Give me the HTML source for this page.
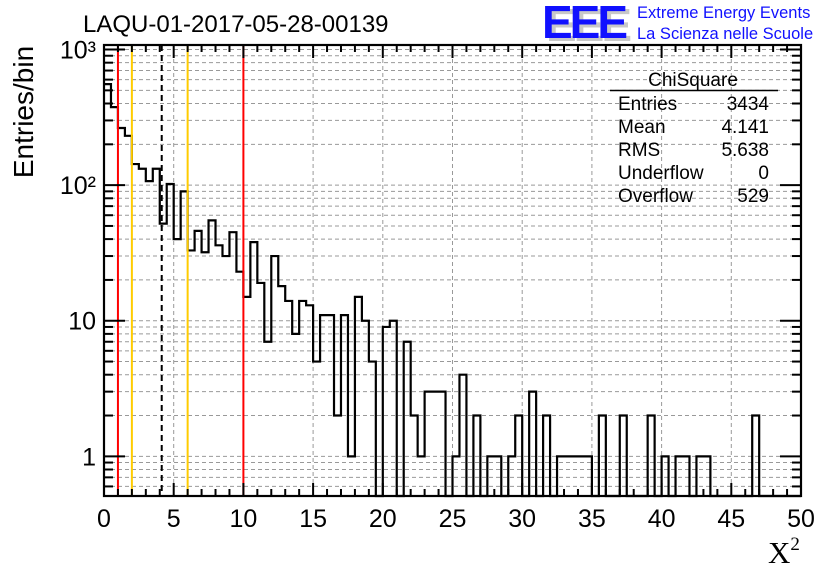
<!DOCTYPE html>
<html><head><meta charset="utf-8"><style>
body{margin:0;background:#fff}
svg{display:block;font-family:"Liberation Sans",sans-serif}
</style></head><body>
<svg id="c" width="836" height="572" viewBox="0 0 836 572">
<text x="83" y="32" font-size="24">LAQU-01-2017-05-28-00139</text>
<g>
<text x="546" y="41" font-size="46" font-weight="bold" fill="#c8c8c8" letter-spacing="-3">EEE</text>
<text x="542" y="38" font-size="46" font-weight="bold" fill="#1010ff" letter-spacing="-3">EEE</text>
<text x="637" y="18" font-size="16.5" fill="#1010ff">Extreme Energy Events</text>
<text x="637" y="39" font-size="16.5" fill="#1010ff">La Scienza nelle Scuole</text>
</g>
<g id="grid"></g>
<g id="marks"></g>
<g id="axes"></g>
<g font-size="19">
<text x="693" y="86" text-anchor="middle">ChiSquare</text>
<line x1="610" y1="90.5" x2="778" y2="90.5" stroke="#000" stroke-width="1.5"/>
<text x="618" y="110">Entries</text><text x="769" y="110" text-anchor="end">3434</text>
<text x="618" y="133">Mean</text><text x="769" y="133" text-anchor="end">4.141</text>
<text x="618" y="156">RMS</text><text x="769" y="156" text-anchor="end">5.638</text>
<text x="618" y="179">Underflow</text><text x="769" y="179" text-anchor="end">0</text>
<text x="618" y="202">Overflow</text><text x="769" y="202" text-anchor="end">529</text>
</g>
<text transform="translate(33,112) rotate(-90)" font-size="28" text-anchor="middle">Entries/bin</text>
<text x="768" y="563" font-size="31" font-family="Liberation Serif,serif">X<tspan font-size="19" dy="-13">2</tspan></text>
</svg>
<script>
const binCounts=[556,376,264,231,143,132,107,132,52,102,40,90,33,46,32,55,36,30,45,23,15,38,19,7,30,18,14,8,14,13,5,11,11,2,11,1,15,10,5,0,9,10,0,7,2,1,3,3,3,0,1,4,0,2,0,1,1,0,1,2,0,3,0,2,0,1,1,1,1,1,0,2,0,0,2,0,0,0,2,0,1,0,1,1,0,1,1,0,0,0,0,0,0,2,0,0,0,0,0,0];
const binWidth=0.5;
const xTicks=[0,5,10,15,20,25,30,35,40,45,50];
const yDecades=[1,10,100,1000];
const yDecadeLabels=["1","10","10²","10³"];
const cutLines=[1,2,6,10];
const cutColors=["#ff0000","#ffcc00","#ffcc00","#ff0000"];
const meanValue=4.141;
const L=104,R=801,T=45,B=496,xMin=0,xMax=50,yMin=0.51,yMax=1080;
const X=v=>L+(v-xMin)/(xMax-xMin)*(R-L);
const Y=v=>B-(Math.log10(v)-Math.log10(yMin))/(Math.log10(yMax)-Math.log10(yMin))*(B-T);
const NS="http://www.w3.org/2000/svg";
function mk(p,t,a){const e=document.createElementNS(NS,t);for(const k in a)e.setAttribute(k,a[k]);p.appendChild(e);return e;}
const grid=document.getElementById('grid'),marks=document.getElementById('marks'),axes=document.getElementById('axes');
for(const d of yDecades){for(let m=1;m<10;m++){const v=d*m;if(v<yMin||v>yMax)continue;
const g=mk(grid,'line',{x1:L,x2:R,y1:Y(v),y2:Y(v),stroke:'#999',"stroke-dasharray":'4,3','stroke-width':1});

}}
for(let m=5;m<10;m++){const v=0.1*m;if(v<yMin)continue;const g=mk(grid,'line',{x1:L,x2:R,y1:Y(v),y2:Y(v),stroke:'#999',"stroke-dasharray":'4,3'});

}
for(const t of xTicks){const g=mk(grid,'line',{x1:X(t),x2:X(t),y1:T,y2:B,stroke:'#999',"stroke-dasharray":'4,3'});

}
let d='';let prev=null;
binCounts.forEach((c,i)=>{const x0=X(i*binWidth),x1=X((i+1)*binWidth);const y=c>0?Y(c):B;
if(prev===null)d+=`M${x0},${y}`;else d+=`L${x0},${y}`;d+=`L${x1},${y}`;prev=y;});
const h=mk(marks,'path',{d:d,fill:'none',stroke:'#000','stroke-width':2.2});


cutLines.forEach((v,i)=>{const l=mk(marks,'line',{x1:X(v),x2:X(v),y1:T,y2:B,stroke:cutColors[i],'stroke-width':2});

});
const ml=mk(marks,'line',{x1:X(meanValue),x2:X(meanValue),y1:T,y2:B,stroke:'#000','stroke-width':2,'stroke-dasharray':'6,4'});


const fr=mk(axes,'rect',{x:L,y:T,width:R-L,height:B-T,fill:'none',stroke:'#000','stroke-width':2.2});


for(let v=0;v<=50;v++){const maj=v%5===0;const len=maj?13:7;
mk(axes,'line',{x1:X(v),x2:X(v),y1:B,y2:B-len,stroke:'#000','stroke-width':2});
mk(axes,'line',{x1:X(v),x2:X(v),y1:T,y2:T+len,stroke:'#000','stroke-width':2});}
xTicks.forEach(t=>{const tx=mk(axes,'text',{x:X(t),y:527,'font-size':25,'text-anchor':'middle'});tx.textContent=t;

});
function ytick(v,maj){const len=maj?21:9;
mk(axes,'line',{x1:L,x2:L+len,y1:Y(v),y2:Y(v),stroke:'#000','stroke-width':2});
mk(axes,'line',{x1:R,x2:R-len,y1:Y(v),y2:Y(v),stroke:'#000','stroke-width':2});}
for(const dd of yDecades){for(let m=1;m<10;m++){const v=dd*m;if(v>yMax)continue;ytick(v,m===1);}}
for(let m=6;m<10;m++)ytick(0.1*m,false);
yDecades.forEach((v,i)=>{const tx=mk(axes,'text',{x:96,y:Y(v)+9,'font-size':25,'text-anchor':'end'});tx.textContent=yDecadeLabels[i];

});
</script>
</body></html>
